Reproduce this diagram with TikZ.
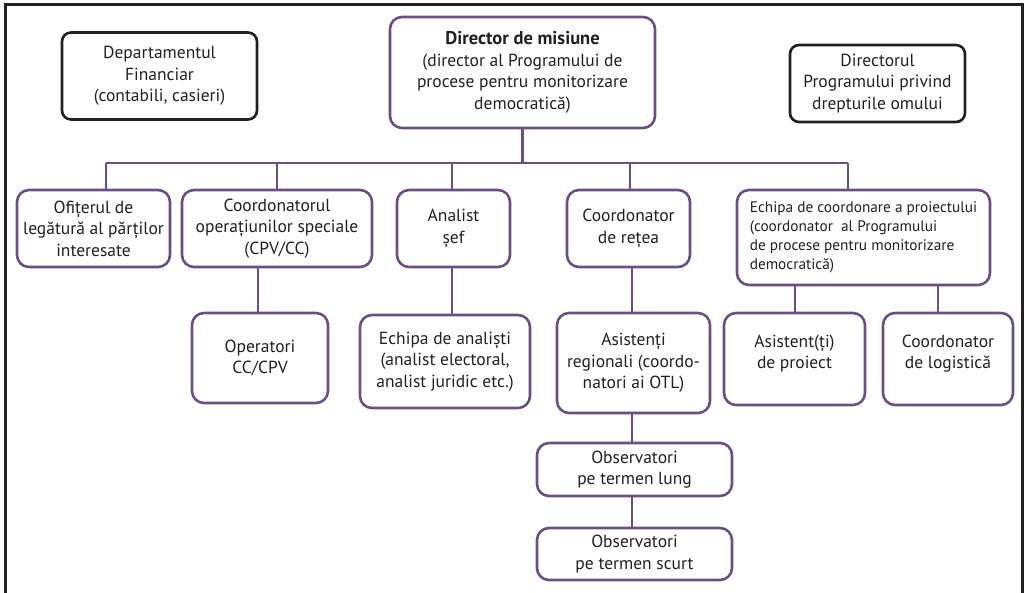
\documentclass[tikz,border=0pt]{standalone}
\usepackage{fontspec}
\setmainfont{PT Sans}
\definecolor{purp}{RGB}{108,78,134}
\definecolor{blk}{RGB}{35,31,32}
\tikzset{
  box/.style={draw=purp, line width=2.6pt, rounded corners=12pt, align=center,
    inner sep=2pt, font=\fontsize{17.5}{21.5}\selectfont, text=blk},
  bbox/.style={box, draw=blk, rounded corners=9pt},
  conn/.style={draw=purp, line width=2.6pt},
}
\begin{document}
\begin{tikzpicture}[x=1pt,y=-1pt]
\useasboundingbox (0,0) rectangle (1025,593);
\draw[blk, line width=3pt] (5,593) -- (5,5) -- (1022,5) -- (1022,593);

\node[bbox, minimum width=195pt, minimum height=87pt] (fin) at (159.5,76)
  {Departamentul\\Financiar\\(contabili, casieri)};
\node[box, minimum width=265pt, minimum height=111pt] (dir) at (522.5,72.5)
  {\textbf{\fontsize{18.5}{21.5}\selectfont Director de misiune}\\(director al Programului de\\procese pentru monitorizare\\democratică)};
\node[bbox, minimum width=175pt, minimum height=77pt] (dhr) at (877.5,83.5)
  {Directorul\\Programului privind\\drepturile omului};

\node[box, minimum width=153pt, minimum height=77pt] (ofi) at (93.5,228.5)
  {Ofițerul de\\legătură al părților\\interesate};
\node[box, minimum width=190pt, minimum height=77pt] (cos) at (277,228.5)
  {Coordonatorul\\operațiunilor speciale\\(CPV/CC)};
\node[box, minimum width=113pt, minimum height=77pt] (ana) at (453.5,228.5)
  {Analist\\șef};
\node[box, minimum width=123pt, minimum height=77pt] (cre) at (628.5,228.5)
  {Coordonator\\de rețea};
\node[box, minimum width=253pt, minimum height=95pt, align=left, inner sep=5pt,
  font=\fontsize{15.3}{19}\selectfont] (eco) at (863.5,237.5)
  {Echipa de coordonare a proiectului\\(coordonator\ \ al Programului\\de procese pentru monitorizare\\democratică)};

\node[box, minimum width=136pt, minimum height=90pt] (opr) at (260,358)
  {Operatori\\CC/CPV};
\node[box, minimum width=170pt, minimum height=93pt] (ean) at (445,361.5)
  {Echipa de analiști\\(analist electoral,\\analist juridic etc.)};
\node[box, minimum width=153pt, minimum height=100pt] (asr) at (633.5,363)
  {Asistenți\\regionali (coordo-\\natori ai OTL)};
\node[box, minimum width=141pt, minimum height=92pt] (asp) at (794.5,359)
  {Asistent(ți)\\de proiect\\[-7.5pt]};
\node[box, minimum width=130pt, minimum height=92pt] (clg) at (948,359)
  {Coordonator\\de logistică\\[-7.5pt]};

\node[box, minimum width=195pt, minimum height=53pt] (obl) at (634.5,469.5)
  {Observatori\\pe termen lung};
\node[box, minimum width=195pt, minimum height=52pt] (obs) at (634.5,554)
  {Observatori\\pe termen scurt};

\coordinate (b1) at (106,163);
\coordinate (b2) at (277,163);
\coordinate (b3) at (452,163);
\coordinate (b4) at (630,163);
\coordinate (b5) at (848,163);
\draw[conn] (dir.south) -- (dir.south |- b1);
\draw[conn] (b1) -- (b5);
\draw[conn] (b1) -- (b1 |- ofi.north);
\draw[conn] (b2) -- (b2 |- cos.north);
\draw[conn] (b3) -- (b3 |- ana.north);
\draw[conn] (b4) -- (b4 |- cre.north);
\draw[conn] (b5) -- (b5 |- eco.north);

\coordinate (c1) at (258,0);
\draw[conn] (c1 |- cos.south) -- (c1 |- opr.north);
\draw[conn] (b3 |- ana.south) -- (b3 |- ean.north);
\coordinate (c2) at (632,0);
\draw[conn] (c2 |- cre.south) -- (c2 |- asr.north);
\draw[conn] (c2 |- asr.south) -- (c2 |- obl.north);
\draw[conn] (c2 |- obl.south) -- (c2 |- obs.north);
\coordinate (c3) at (795,0);
\coordinate (c4) at (938,0);
\draw[conn] (c3 |- eco.south) -- (c3 |- asp.north);
\draw[conn] (c4 |- eco.south) -- (c4 |- clg.north);
\end{tikzpicture}
\end{document}
